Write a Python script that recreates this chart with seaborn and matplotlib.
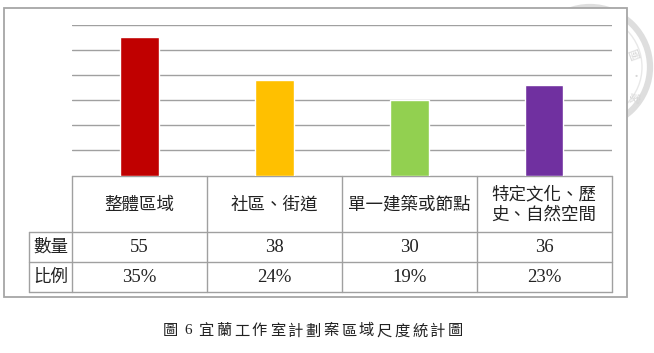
import matplotlib
matplotlib.use("Agg")
import matplotlib.pyplot as plt
import seaborn as sns
import pandas as pd
from matplotlib.patches import Rectangle, Circle

categories = ["整體區域", "社區、街道", "單一建築或節點", "特定文化、歷\n史、自然空間"]
counts = [55, 38, 30, 36]
ratios = ["35%", "24%", "19%", "23%"]
row_labels = ["數量", "比例"]
colors = ["#C00000", "#FFC000", "#92D050", "#7030A0"]
caption = "圖6宜蘭工作室計劃案區域尺度統計圖"

sns.set_theme(style="white")
plt.rcParams["font.family"] = ["Noto Sans CJK TC", "DejaVu Sans"]

W, H = 654, 353
fig = plt.figure(figsize=(W / 100, H / 100), dpi=100)

# overlay axis in pixel coordinates
ov = fig.add_axes([0, 0, 1, 1])
ov.set_xlim(0, W)
ov.set_ylim(H, 0)
ov.axis("off")

# faint seal watermark behind the frame
ov.add_patch(Circle((590, 67), 60, fill=False, edgecolor="#DEDEDE", linewidth=4.5, zorder=0))
ov.add_patch(Circle((590, 67), 52, fill=False, edgecolor="#E8E8E8", linewidth=1.0, zorder=0))
for ch, (sx, sy), rot in zip(["國", "•", "家"], [(632, 55), (636, 77), (633, 97)], [-70, 0, -100]):
    ov.text(sx, sy, ch, ha="center", va="center", fontsize=8, color="#D6D6D6",
            rotation=rot, zorder=0)

# outer frame (white filled)
fx0, fy0, fx1, fy1 = 4, 8.3, 627.3, 296.5
ov.add_patch(Rectangle((fx0, fy0), fx1 - fx0, fy1 - fy0, facecolor="white",
                       edgecolor="#A6A6A6", linewidth=1.3, zorder=1))

# plot area in pixels
px0, px1 = 72.2, 611.7
py_top, py_base = 24.7, 175.6
ax = fig.add_axes([px0 / W, 1 - py_base / H, (px1 - px0) / W, (py_base - py_top) / H])
df = pd.DataFrame({"cat": categories, "n": counts})
sns.barplot(data=df, x="cat", y="n", hue="cat", palette=colors, width=0.285,
            legend=False, ax=ax, saturation=1)
ax.set_ylim(0, 60)
ax.set_xlim(-0.5, 3.5)
ax.set_yticks([10, 20, 30, 40, 50, 60])
ax.yaxis.grid(True, color="#A0A0A0", linewidth=1.0)
ax.set_axisbelow(True)
ax.tick_params(left=False, bottom=False, labelleft=False, labelbottom=False)
for s in ax.spines.values():
    s.set_visible(False)
ax.set_xlabel("")
ax.set_ylabel("")
ax.patch.set_alpha(0)

# table
lc = "#A0A0A0"
lw = 1.0
col_w = (px1 - px0) / 4
y_head_bot = 231.7
y_r1_bot = 261.7
y_r2_bot = 292.0
lab_x0 = 29.3
ov.plot([px0, px1], [py_base, py_base], color=lc, lw=lw, zorder=2)
for yy in (y_head_bot, y_r1_bot, y_r2_bot):
    ov.plot([lab_x0, px1], [yy, yy], color=lc, lw=lw, zorder=2)
ov.plot([lab_x0, lab_x0], [y_head_bot, y_r2_bot], color=lc, lw=lw, zorder=2)
for i in range(5):
    x = px0 + col_w * i
    ov.plot([x, x], [py_base, y_r2_bot], color=lc, lw=lw, zorder=2)

tc = "#222222"
cjk_fs = 12.6
num_fs = 13.5
for i, (c, n, r) in enumerate(zip(categories, counts, ratios)):
    xc = px0 + col_w * (i + 0.5)
    ov.text(xc, (py_base + y_head_bot) / 2 + 1, c, ha="center", va="center",
            fontsize=cjk_fs, color=tc, linespacing=1.2, fontweight="light", zorder=3)
    ov.text(xc, (y_head_bot + y_r1_bot) / 2 + 1, str(n), ha="center", va="center",
            fontsize=num_fs, color=tc, family="Liberation Serif", zorder=3)
    ov.text(xc, (y_r1_bot + y_r2_bot) / 2 + 1, r, ha="center", va="center",
            fontsize=num_fs, color=tc, family="Liberation Serif", zorder=3)

for lab, (ya, yb) in zip(row_labels, [(y_head_bot, y_r1_bot), (y_r1_bot, y_r2_bot)]):
    ov.text((lab_x0 + px0) / 2, (ya + yb) / 2, lab, ha="center", va="center",
            fontsize=cjk_fs, color=tc, fontweight="light", zorder=3)

# caption, letter-spaced
cap_x0, cap_x1 = 170.5, 455.5
pitch = (cap_x1 - cap_x0) / (len(caption) - 1)
for k, ch in enumerate(caption):
    ov.text(cap_x0 + pitch * k, 331, ch, ha="center", va="center", fontsize=11,
            color=tc, fontweight="light",
            family=["Liberation Serif"] if ch.isdigit() else ["Noto Sans CJK TC"])

fig.savefig("out.png", dpi=100)
